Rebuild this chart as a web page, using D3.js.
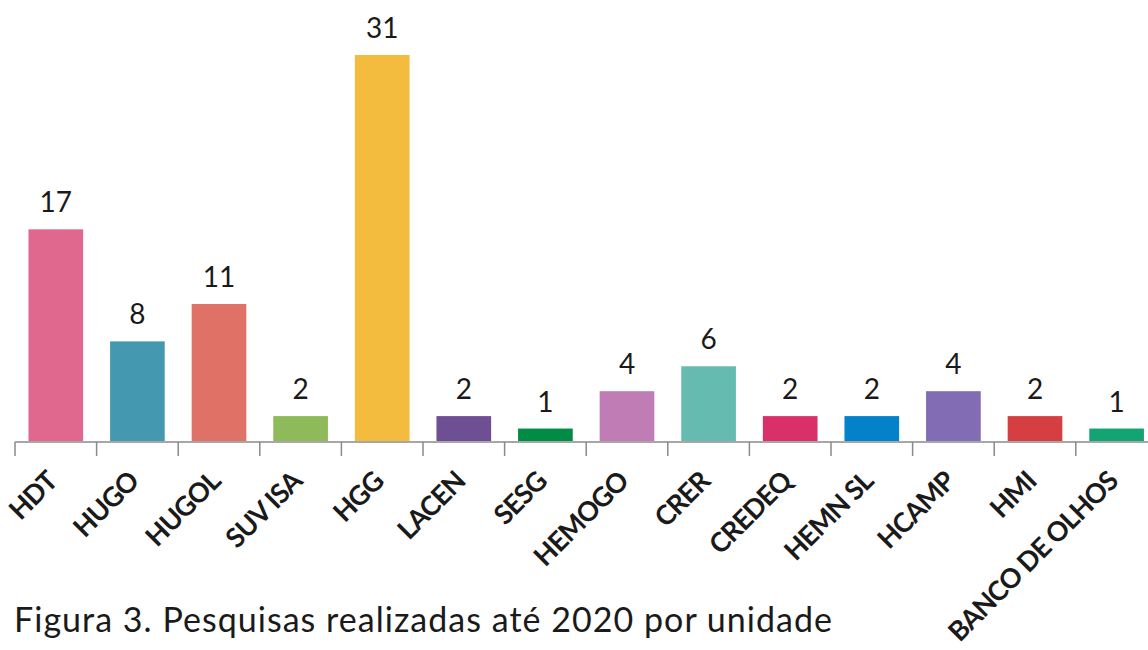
<!DOCTYPE html>
<html lang="pt">
    <head>
        <meta charset="utf-8">
        <title>Pesquisas por unidade</title>
        <script type="text/javascript" src="https://d3js.org/d3.v7.min.js"></script>
        <style type="text/css">
          body { margin: 0; background: #fff; }
          text { font-family: Lato, "Open Sans", sans-serif; fill: #1a1a1a; }
        </style>
    </head>
    <body>
        <svg width="1148" height="650"></svg>
        <script type="text/javascript">

            // data
            const units = ["HDT", "HUGO", "HUGOL", "SUVISA", "HGG", "LACEN", "SESG",
                           "HEMOGO", "CRER", "CREDEQ", "HEMNSL", "HCAMP", "HMI", "BANCO DE OLHOS"];
            const unitLabels = ["HDT", "HUGO", "HUGOL", "SUV ISA", "HGG", "LACEN", "SESG",
                                "HEMOGO", "CRER", "CREDEQ", "HEMN SL", "HCAMP", "HMI", "BANCO DE OLHOS"];
            const counts = [17, 8, 11, 2, 31, 2, 1, 4, 6, 2, 2, 4, 2, 1];
            const colors = ["#E0688F", "#4499B1", "#E07167", "#8FBA5A", "#F4BC3E", "#6E4F94", "#028B45",
                            "#C07CB5", "#66BBB0", "#D9306A", "#0381C9", "#826CB3", "#D63F42", "#14A473"];
            const caption = "Figura 3. Pesquisas realizadas até 2020 por unidade";

            const svg = d3.select("svg");
            const baseY = 441;

            const x = d3.scaleBand()
                        .domain(units)
                        .range([15, 15 + 14 * 81.6])
                        .paddingInner(0.33)
                        .paddingOuter(0.165);

            const y = d3.scaleLinear()
                        .domain([0, 31])
                        .range([baseY, 55]);

            const color = d3.scaleOrdinal(units, colors);

            //bars
            svg.selectAll("rect.bar")
               .data(units)
               .enter()
               .append("rect")
               .attr("class", "bar")
               .attr("x", d => x(d))
               .attr("width", x.bandwidth())
               .attr("y", (d, i) => y(counts[i]))
               .attr("height", (d, i) => baseY - y(counts[i]))
               .style("fill", d => color(d));

            //value labels
            svg.selectAll("text.val")
               .data(units)
               .enter()
               .append("text")
               .attr("class", "val")
               .attr("x", d => x(d) + x.bandwidth() / 2)
               .attr("y", (d, i) => y(counts[i]) - 17)
               .attr("text-anchor", "middle")
               .style("font-size", "28px")
               .text((d, i) => counts[i]);

            //axis line + ticks at band boundaries
            const step = x.step();
            const bandStart = d => x(d) - step * x.paddingInner() / 2;
            svg.append("line")
               .attr("x1", bandStart(units[0])).attr("x2", 1148)
               .attr("y1", baseY + 1).attr("y2", baseY + 1)
               .style("stroke", "#8a8a8a").style("stroke-width", 1.5);
            svg.selectAll("line.tick")
               .data(units)
               .enter()
               .append("line")
               .attr("class", "tick")
               .attr("x1", d => bandStart(d)).attr("x2", d => bandStart(d))
               .attr("y1", baseY + 1).attr("y2", baseY + 15)
               .style("stroke", "#8a8a8a").style("stroke-width", 1.5);

            //category labels (rotated)
            svg.selectAll("text.cat")
               .data(units)
               .enter()
               .append("text")
               .attr("class", "cat")
               .attr("text-anchor", "end")
               .attr("transform", d => `translate(${x(d) + x.bandwidth() / 2 + 3},${baseY + 42}) rotate(-45)`)
               .style("font-size", "27px")
               .style("font-weight", "bold")
               .style("letter-spacing", "-0.9px")
               .text((d, i) => unitLabels[i]);

            //caption
            svg.append("text")
               .attr("x", 14)
               .attr("y", 632)
               .attr("textLength", 818)
               .attr("lengthAdjust", "spacing")
               .style("font-size", "34px")
               .text(caption);

        </script>
    </body>
</html>
